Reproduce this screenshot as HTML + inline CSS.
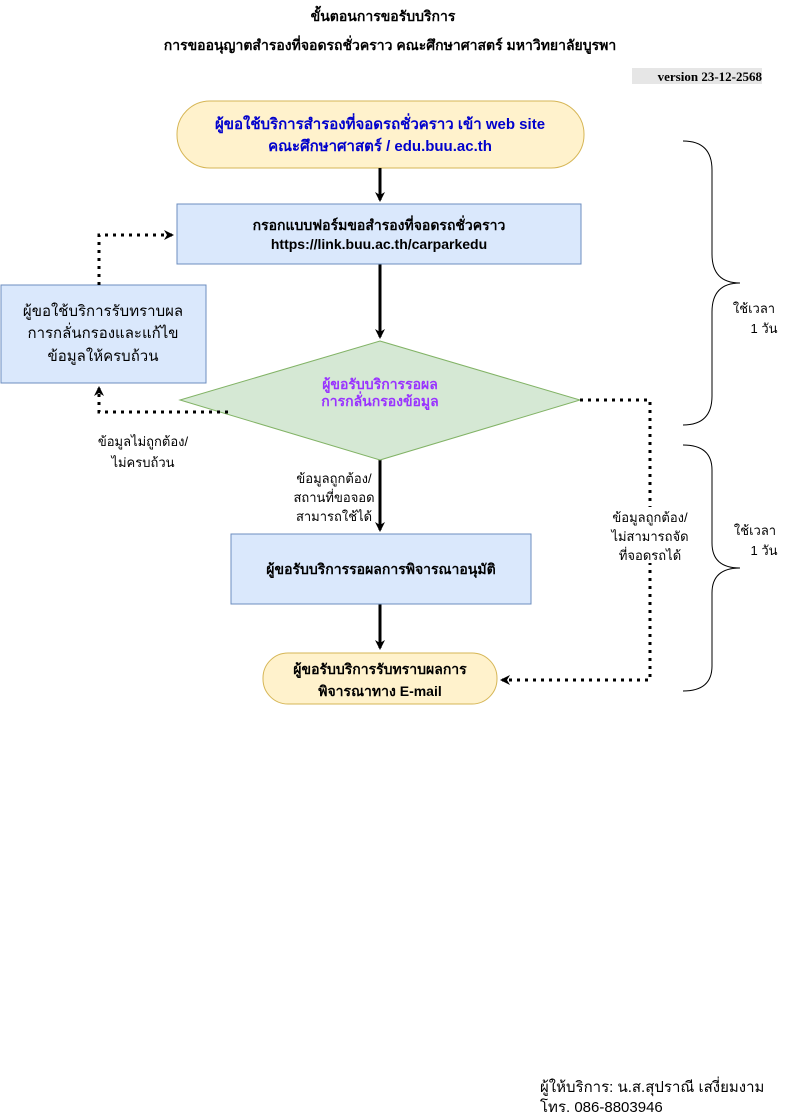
<!DOCTYPE html>
<html><head><meta charset="utf-8"><style>
html,body{margin:0;padding:0;background:#fff;}
svg{display:block;font-family:"Liberation Sans","DejaVu Sans",sans-serif;}
</style></head><body>
<svg width="806" height="1115" viewBox="0 0 806 1115" xmlns="http://www.w3.org/2000/svg">
<defs>
<marker id="a" markerWidth="10" markerHeight="10" refX="8" refY="5" orient="auto" markerUnits="userSpaceOnUse"><path d="M0,0 L10,5 L0,10 L3,5 z" fill="#000"/></marker>
</defs>
<g font-weight="bold" font-size="14" text-anchor="middle" fill="#000">
<text x="383" y="21">ขั้นตอนการขอรับบริการ</text>
<text x="390" y="50">การขออนุญาตสำรองที่จอดรถชั่วคราว คณะศึกษาศาสตร์ มหาวิทยาลัยบูรพา</text>
</g>
<rect x="632" y="68" width="130" height="16" fill="#e6e6e6"/>
<text x="762" y="81" text-anchor="end" font-family="Liberation Serif,serif" font-weight="bold" font-size="13">version 23-12-2568</text>

<rect x="177" y="101" width="407" height="67" rx="33" fill="#fff2cc" stroke="#d6b656"/>
<g font-weight="bold" font-size="15" text-anchor="middle" fill="#0000cc">
<text x="380" y="129">ผู้ขอใช้บริการสำรองที่จอดรถชั่วคราว เข้า web site</text>
<text x="380" y="151">คณะศึกษาศาสตร์ / edu.buu.ac.th</text>
</g>

<g stroke="#000" stroke-width="3" fill="none">
<line x1="380" y1="168" x2="380" y2="200" marker-end="url(#a)"/>
<line x1="380" y1="264" x2="380" y2="337" marker-end="url(#a)"/>
<line x1="380" y1="460" x2="380" y2="530" marker-end="url(#a)"/>
<line x1="380" y1="604" x2="380" y2="648" marker-end="url(#a)"/>
</g>

<rect x="177" y="204" width="404" height="60" fill="#dae8fc" stroke="#6c8ebf"/>
<g font-weight="bold" font-size="14" text-anchor="middle">
<text x="379" y="230">กรอกแบบฟอร์มขอสำรองที่จอดรถชั่วคราว</text>
<text x="379" y="249">https://link.buu.ac.th/carparkedu</text>
</g>

<polygon points="380,341 580,400 380,460 180,400" fill="#d5e8d4" stroke="#82b366"/>
<g font-weight="bold" font-size="14" text-anchor="middle" fill="#9933ff">
<text x="380" y="389">ผู้ขอรับบริการรอผล</text>
<text x="380" y="406">การกลั่นกรองข้อมูล</text>
</g>

<rect x="1" y="285" width="205" height="98" fill="#dae8fc" stroke="#6c8ebf"/>
<g font-size="15" text-anchor="middle">
<text x="103" y="316">ผู้ขอใช้บริการรับทราบผล</text>
<text x="103" y="338">การกลั่นกรองและแก้ไข</text>
<text x="103" y="361">ข้อมูลให้ครบถ้วน</text>
</g>

<g stroke="#000" stroke-width="3" stroke-dasharray="3,5" fill="none">
<polyline points="228,412 99,412 99,388" marker-end="url(#a)"/>
<polyline points="99,285 99,235 172,235" marker-end="url(#a)"/>
<polyline points="580,400 650,400 650,680 502,680" marker-end="url(#a)"/>
</g>

<g font-size="13" text-anchor="middle">
<text x="143" y="446">ข้อมูลไม่ถูกต้อง/</text>
<text x="143" y="467">ไม่ครบถ้วน</text>
<text x="334" y="483">ข้อมูลถูกต้อง/</text>
<text x="334" y="502">สถานที่ขอจอด</text>
<text x="334" y="521">สามารถใช้ได้</text>
<rect x="590" y="507" width="120" height="56" fill="#fff"/>
<text x="650" y="522">ข้อมูลถูกต้อง/</text>
<text x="650" y="541">ไม่สามารถจัด</text>
<text x="650" y="560">ที่จอดรถได้</text>
</g>

<rect x="231" y="534" width="300" height="70" fill="#dae8fc" stroke="#6c8ebf"/>
<text x="381" y="574" font-weight="bold" font-size="14" text-anchor="middle">ผู้ขอรับบริการรอผลการพิจารณาอนุมัติ</text>

<rect x="263" y="653" width="234" height="51" rx="25" fill="#fff2cc" stroke="#d6b656"/>
<g font-weight="bold" font-size="14" text-anchor="middle">
<text x="380" y="674">ผู้ขอรับบริการรับทราบผลการ</text>
<text x="380" y="696">พิจารณาทาง E-mail</text>
</g>

<g stroke="#000" stroke-width="1" fill="none">
<path d="M683,141 Q712,141 712,170 L712,254 Q712,283 740,283 Q712,283 712,312 L712,396 Q712,425 683,425"/>
<path d="M683,445 Q712,445 712,470 L712,543 Q712,568 740,568 Q712,568 712,593 L712,666 Q712,691 683,691"/>
</g>
<g font-size="13" text-anchor="middle">
<text x="754" y="313">ใช้เวลา</text>
<text x="764" y="333">1 วัน</text>
<text x="755" y="535">ใช้เวลา</text>
<text x="764" y="555">1 วัน</text>
</g>

<g font-size="15">
<text x="540" y="1092">ผู้ให้บริการ: น.ส.สุปราณี เสงี่ยมงาม</text>
<text x="540" y="1112">โทร. 086-8803946</text>
</g>
</svg>
</body></html>
